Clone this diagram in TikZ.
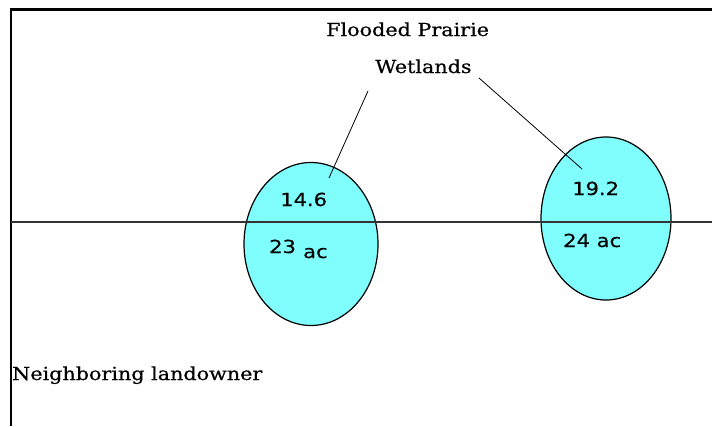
\documentclass[tikz,border=0pt]{standalone}
\usepackage{fontspec}
\setmainfont{DejaVu Serif}
\newfontfamily\labelfont[FakeStretch=1.15,FakeBold=0.6]{DejaVu Serif}
\newfontfamily\numfont[FakeStretch=1.17,FakeBold=0.3]{DejaVu Sans}
\usetikzlibrary{shapes.geometric}
\definecolor{pond}{RGB}{128,254,254}
\tikzset{
  label text/.style={inner sep=0pt, anchor=base west, font=\labelfont\fontsize{18}{20}\selectfont},
  area text/.style={inner sep=0pt, anchor=base west, font=\numfont\fontsize{18}{20}\selectfont},
  wetland/.style={ellipse, draw=black, line width=1.2pt, fill=pond, inner sep=0pt},
  pointer/.style={draw=black, line width=0.8pt},
}
\begin{document}
\begin{tikzpicture}[x=1pt, y=-1pt]
\useasboundingbox (0,0) rectangle (712,426);
% frame: top and left edges only
\draw[line width=2.6pt] (11,426) -- (11,9.5) -- (712,9.5);
% the two wetlands
\node[wetland, minimum width=134pt, minimum height=163pt] (w1) at (311,244) {};
\node[wetland, minimum width=130pt, minimum height=163pt] (w2) at (606,218.5) {};
% property line
\coordinate (pl west) at (11,222);
\coordinate (pl east) at (712,222);
\draw[line width=1.3pt, black!80] (pl west) -- (pl east);
% labels
\node[label text] (t1) at (326,36) {Flooded Prairie};
\node[label text] (t2) at (375,73) {Wetlands};
\node[label text] (t3) at (12,380) {Neighboring landowner};
\node[area text] (a1) at (280,206) {14.6};
\node[area text] (a2) at (269,253) {23};
\node[area text] (a2u) at (303,258) {ac};
\node[area text] (a3) at (572,195) {19.2};
\node[area text] (a4) at (563,247) {24 ac};
% pointers from the title to each wetland
\coordinate (p1 top) at (368,91);
\coordinate (p1 end) at (329,178);
\coordinate (p2 top) at (479,78);
\coordinate (p2 end) at (582,169);
\draw[pointer] (p1 top) -- (p1 end);
\draw[pointer] (p2 top) -- (p2 end);
\end{tikzpicture}
\end{document}
